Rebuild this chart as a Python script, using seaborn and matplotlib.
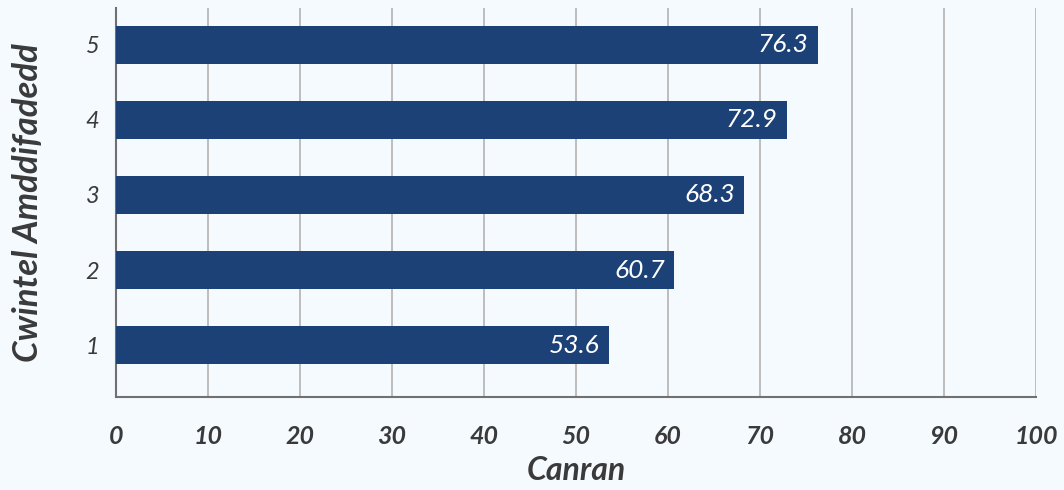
import numpy as np
import pandas as pd
import matplotlib.pyplot as plt
import seaborn as sns

quintiles = ["5", "4", "3", "2", "1"]
percent = [76.3, 72.9, 68.3, 60.7, 53.6]
x_ticks = [0, 10, 20, 30, 40, 50, 60, 70, 80, 90, 100]

bg = "#f5faff"
bar_col = "#1c4177"
txt = "#3a3a3a"

sns.set_style("white")
plt.rcParams['font.family'] = ['Lato', 'DejaVu Sans']

df = pd.DataFrame({"quintile": quintiles, "percent": percent})

fig = plt.figure(figsize=(10.64, 4.9), dpi=100, facecolor=bg)
ax = fig.add_axes([0.109, 0.19, 0.8647, 0.7937])
ax.set_facecolor(bg)

sns.barplot(data=df, x="percent", y="quintile", order=quintiles, color=bar_col,
            saturation=1, width=0.5, orient="h", ax=ax, zorder=3, linewidth=0)

ax.set_xlim(0, 100)
ax.set_ylim(4.69, -0.49)
ax.set_xticks(x_ticks)
ax.set_xticklabels([str(t) for t in x_ticks], fontsize=18, fontweight="bold",
                   fontstyle="italic", color=txt)
ax.set_yticklabels(quintiles, fontsize=17, fontstyle="italic", color=txt)
ax.tick_params(axis="x", length=0, pad=20)
ax.tick_params(axis="y", length=0, pad=12)

ax.grid(axis="x", color="#b3b3b3", linewidth=1.2, zorder=0)
ax.set_axisbelow(True)
for s in ["top", "right"]:
    ax.spines[s].set_visible(False)
for s in ["left", "bottom"]:
    ax.spines[s].set_color("#707070")
    ax.spines[s].set_linewidth(1.5)

for i, v in enumerate(percent):
    ax.text(v - 1.0, i, f"{v:.1f}", color="white", fontsize=19, fontstyle="italic",
            ha="right", va="center", zorder=4)

ax.set_xlabel("Canran", fontsize=23, fontweight="bold", fontstyle="italic",
              color=txt, labelpad=6)
ax.set_ylabel("Cwintel Amddifadedd", fontsize=25, fontweight="bold",
              fontstyle="italic", color=txt, labelpad=30)

fig.savefig("out.png", dpi=100, facecolor=bg)
